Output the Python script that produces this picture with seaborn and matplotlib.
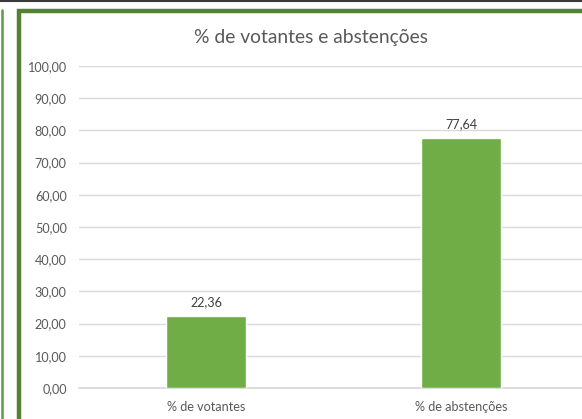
import matplotlib
matplotlib.use("Agg")
import matplotlib.pyplot as plt
import seaborn as sns
import pandas as pd
from matplotlib.patches import Rectangle
from matplotlib.lines import Line2D

categories = ["% de votantes", "% de abstenções"]
values = [22.36, 77.64]
title = "% de votantes e abstenções"

sns.set_theme(style="white")
plt.rcParams["font.family"] = ["Lato", "DejaVu Sans"]

W, H = 582, 419
fig = plt.figure(figsize=(W / 100, H / 100), dpi=100)

# frame pieces seen around the chart (cropped screenshot)
fig.add_artist(Line2D([0, 1], [1 - 1.5 / H, 1 - 1.5 / H], color="#3a3a3a", lw=1.5,
                      transform=fig.transFigure))
fig.add_artist(Line2D([1.5 / W, 1.5 / W], [0, 1 - 10 / H], color="#5f9a3e", lw=1.8,
                      transform=fig.transFigure))
fig.add_artist(Rectangle((18.5 / W, -0.1), 1.2, 1.1 - 11 / H, fill=False,
                         edgecolor="#548235", lw=3.2, transform=fig.transFigure))

ax = fig.add_axes([78.5 / W, 1 - 388 / H, 510 / W, (388 - 66) / H])
df = pd.DataFrame({"cat": categories, "val": values})
sns.barplot(data=df, x="cat", y="val", color="#70AD47", width=0.314,
            saturation=1, ax=ax, zorder=3)

ax.set_ylim(0, 100)
ax.set_xlim(-0.5, 1.5)
ticks = list(range(0, 101, 10))
ax.set_yticks(ticks)
ax.set_yticklabels([f"{t:.2f}".replace(".", ",") for t in ticks])
ax.yaxis.grid(True, color="#D9D9D9", lw=1, zorder=0)
ax.set_axisbelow(True)
for s in ["top", "right", "left"]:
    ax.spines[s].set_visible(False)
ax.spines["bottom"].set_color("#D9D9D9")
ax.tick_params(axis="both", length=0, labelsize=9.1, colors="#595959")
ax.tick_params(axis="y", pad=8.5)
ax.tick_params(axis="x", pad=9)
ax.set_xlabel("")
ax.set_ylabel("")

for c in ax.containers:
    ax.bar_label(c, labels=[f"{v:.2f}".replace(".", ",") for v in values],
                 padding=6, fontsize=9.1, color="#404040")

fig.text(310.5 / W, 1 - 37.5 / H, title, ha="center", va="center", fontsize=13.9,
         color="#595959")

fig.savefig("out.png", dpi=100)
